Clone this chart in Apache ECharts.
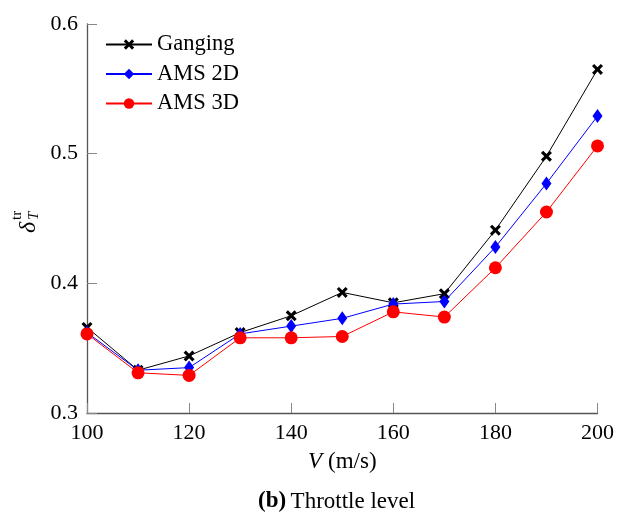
<!DOCTYPE html>
<html><head><meta charset="utf-8">
<script src="https://cdn.jsdelivr.net/npm/echarts@6/dist/echarts.min.js"></script>
<style>html,body{margin:0;padding:0;background:#fff}#c{width:617px;height:515px}</style>
</head><body><div id="c"></div>
<script>
var speeds = [100, 110, 120, 130, 140, 150, 160, 170, 180, 190, 200];
var ganging = [0.366, 0.333, 0.344, 0.362, 0.375, 0.393, 0.385, 0.392, 0.441, 0.498, 0.565];
var ams2d = [0.362, 0.333, 0.335, 0.361, 0.367, 0.373, 0.384, 0.386, 0.428, 0.477, 0.529];
var ams3d = [0.361, 0.331, 0.329, 0.358, 0.358, 0.359, 0.378, 0.374, 0.412, 0.455, 0.506];
var seriesNames = ['Ganging', 'AMS 2D', 'AMS 3D'];
var xTicks = [100, 120, 140, 160, 180, 200];
var yTicks = [0.3, 0.4, 0.5, 0.6];

var FONT = '"Liberation Serif", serif';
var crossPath = 'path://M2,0 L5,3 L8,0 L10,2 L7,5 L10,8 L8,10 L5,7 L2,10 L0,8 L3,5 L0,2 Z';
function pairs(v) { return speeds.map(function (s, i) { return [s, v[i]]; }); }

var chart = echarts.init(document.getElementById('c'), null, {renderer: 'canvas'});
chart.setOption({
  animation: false,
  backgroundColor: '#fff',
  textStyle: {fontFamily: FONT},
  grid: {left: 87, right: 15, top: 24, bottom: 102, containLabel: false},
  title: {
    text: '{b|(b)} {n|Throttle level}',
    left: 253, top: 485,
    textStyle: {fontWeight: 'normal', rich: {
      b: {fontFamily: FONT, fontWeight: 'bold', fontSize: 23, color: '#000'},
      n: {fontFamily: FONT, fontWeight: 'normal', fontSize: 23, color: '#000'}
    }}
  },
  legend: {
    orient: 'vertical', left: 105, top: 33, padding: 0, itemWidth: 46, itemHeight: 13, itemGap: 6.5,
    data: seriesNames,
    textStyle: {fontFamily: FONT, fontSize: 22.5, color: '#000'}
  },
  xAxis: {
    type: 'value', min: xTicks[0], max: xTicks[xTicks.length - 1], interval: 20,
    name: '{i|V}  {n|(m/s)}', nameLocation: 'middle', nameGap: 37,
    nameTextStyle: {rich: {
      i: {fontFamily: FONT, fontStyle: 'italic', fontSize: 23, color: '#000'},
      n: {fontFamily: FONT, fontSize: 23, color: '#000'}
    }},
    axisLine: {lineStyle: {color: '#555', width: 1.3}},
    axisTick: {inside: true, length: 10, lineStyle: {color: '#888'}},
    axisLabel: {fontFamily: FONT, fontSize: 22, color: '#000', margin: 9},
    splitLine: {show: false}
  },
  yAxis: {
    type: 'value', min: yTicks[0], max: yTicks[yTicks.length - 1], interval: 0.1,
    axisLine: {show: true, lineStyle: {color: '#555', width: 1.3}},
    axisTick: {show: true, inside: true, length: 10, lineStyle: {color: '#888'}},
    axisLabel: {fontFamily: FONT, fontSize: 22, color: '#000', margin: 9},
    splitLine: {show: false}
  },
  graphic: [{
    type: 'group', x: 27, y: 233, rotation: Math.PI / 2,
    children: [
      {type: 'text', x: 0, y: -10, style: {text: 'δ', font: 'italic 24px "Liberation Serif"', fill: '#000'}},
      {type: 'text', x: 13, y: 0, style: {text: 'T', font: 'italic 15px "Liberation Serif"', fill: '#000'}},
      {type: 'text', x: 13, y: -17, style: {text: 'tr', font: '15px "Liberation Serif"', fill: '#000'}}
    ]
  }],
  series: [
    {name: seriesNames[0], type: 'line', data: pairs(ganging), symbol: crossPath, symbolSize: 11,
     itemStyle: {color: '#000'}, lineStyle: {color: '#000', width: 1}, z: 3},
    {name: seriesNames[1], type: 'line', data: pairs(ams2d), symbol: 'diamond', symbolSize: [10, 14],
     itemStyle: {color: '#0000ff'}, lineStyle: {color: '#0000ff', width: 1}, z: 4},
    {name: seriesNames[2], type: 'line', data: pairs(ams3d), symbol: 'circle', symbolSize: 13,
     itemStyle: {color: '#ff0000'}, lineStyle: {color: '#ff0000', width: 1}, z: 5}
  ]
});
</script>
</body></html>
